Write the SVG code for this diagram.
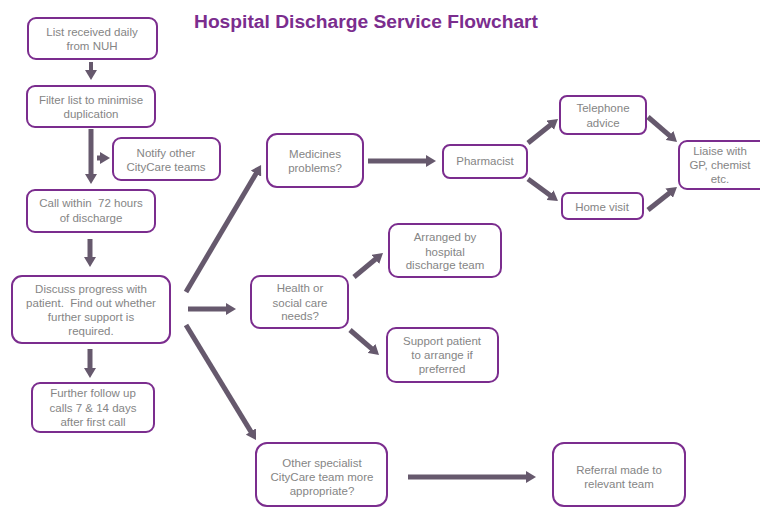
<svg xmlns="http://www.w3.org/2000/svg" width="760" height="507" viewBox="0 0 760 507">
<style>
.box{fill:#fff;stroke:#7b2d8e;stroke-width:2}
.t{font-family:"Liberation Sans",Arial,sans-serif;font-size:11.5px;fill:#858585;text-anchor:middle;white-space:pre}
.title{font-family:"Liberation Sans",Arial,sans-serif;font-size:18px;font-weight:bold;fill:#7b2d8e}
.ar{stroke:#66596d;stroke-width:5;fill:none;marker-end:url(#ah)}
</style>
<defs>
<marker id="ah" markerUnits="userSpaceOnUse" markerWidth="10" markerHeight="12" refX="4" refY="6" orient="auto">
<path d="M0,0 L10,6 L0,12 z" fill="#66596d"/>
</marker>
</defs>
<rect width="760" height="507" fill="#fff"/>
<text class="title" x="194" y="28" textLength="344" lengthAdjust="spacingAndGlyphs">Hospital Discharge Service Flowchart</text>

<g id="connectors">
<line class="ar" style="stroke-width:4" x1="91" y1="62" x2="91" y2="74"/>
<line class="ar" x1="91" y1="129" x2="91" y2="178"/>
<line class="ar" x1="97" y1="158" x2="104" y2="158"/>
<line class="ar" x1="90" y1="239" x2="90" y2="261"/>
<line class="ar" x1="90" y1="349" x2="90" y2="372"/>
<line class="ar" x1="186" y1="292" x2="258" y2="170.2"/>
<line class="ar" x1="188" y1="309" x2="230" y2="309"/>
<line class="ar" x1="186" y1="325" x2="252.9" y2="434.9"/>
<line class="ar" x1="368" y1="161" x2="430" y2="161"/>
<line class="ar" x1="528" y1="143" x2="553.3" y2="122.8"/>
<line class="ar" x1="528" y1="179" x2="553.2" y2="197.5"/>
<line class="ar" x1="648" y1="117" x2="672.5" y2="138.1"/>
<line class="ar" x1="648" y1="210" x2="672.3" y2="190.7"/>
<line class="ar" x1="354" y1="277" x2="378.4" y2="256.8"/>
<line class="ar" x1="350" y1="330" x2="374.5" y2="351.1"/>
<line class="ar" x1="408" y1="477" x2="530" y2="477"/>
</g>

<g id="list">
<rect class="box" x="28" y="18" width="129" height="41" rx="8"/>
<text class="t" x="92" y="36">List received daily</text>
<text class="t" x="92" y="50">from NUH</text>
</g>
<g id="filter">
<rect class="box" x="27" y="86" width="128" height="41" rx="8"/>
<text class="t" x="91" y="104">Filter list to minimise</text>
<text class="t" x="91" y="118">duplication</text>
</g>
<g id="notify">
<rect class="box" x="113" y="138" width="107" height="42" rx="8"/>
<text class="t" x="166" y="157">Notify other</text>
<text class="t" x="166" y="171">CityCare teams</text>
</g>
<g id="call">
<rect class="box" x="27" y="190" width="128" height="42" rx="8"/>
<text class="t" x="91" y="207">Call within  72 hours</text>
<text class="t" x="91" y="222">of discharge</text>
</g>
<g id="discuss">
<rect class="box" x="12" y="276" width="158" height="67" rx="10"/>
<text class="t" x="91" y="293">Discuss progress with</text>
<text class="t" x="91" y="307">patient.  Find out whether</text>
<text class="t" x="91" y="321">further support is</text>
<text class="t" x="91" y="335">required.</text>
</g>
<g id="further">
<rect class="box" x="32" y="383" width="122" height="49" rx="8"/>
<text class="t" x="93" y="397">Further follow up</text>
<text class="t" x="93" y="412">calls 7 &amp; 14 days</text>
<text class="t" x="93" y="426">after first call</text>
</g>
<g id="medicines">
<rect class="box" x="267" y="134" width="96" height="53" rx="10"/>
<text class="t" x="315" y="158">Medicines</text>
<text class="t" x="315" y="172">problems?</text>
</g>
<g id="pharmacist">
<rect class="box" x="443" y="145" width="84" height="33" rx="7"/>
<text class="t" x="485" y="165">Pharmacist</text>
</g>
<g id="telephone">
<rect class="box" x="560" y="96" width="86" height="38" rx="7"/>
<text class="t" x="603" y="112">Telephone</text>
<text class="t" x="603" y="127">advice</text>
</g>
<g id="home">
<rect class="box" x="562" y="193" width="81" height="26" rx="6"/>
<text class="t" x="602" y="211">Home visit</text>
</g>
<g id="liaise">
<rect class="box" x="679" y="141" width="90" height="48" rx="8"/>
<text class="t" x="720" y="155">Liaise with</text>
<text class="t" x="720" y="169">GP, chemist</text>
<text class="t" x="720" y="183">etc.</text>
</g>
<g id="health">
<rect class="box" x="251" y="276" width="97" height="52" rx="9"/>
<text class="t" x="300" y="292">Health or</text>
<text class="t" x="300" y="307">social care</text>
<text class="t" x="300" y="320">needs?</text>
</g>
<g id="arranged">
<rect class="box" x="389" y="224" width="112" height="53" rx="9"/>
<text class="t" x="445" y="241">Arranged by</text>
<text class="t" x="445" y="256">hospital</text>
<text class="t" x="445" y="269">discharge team</text>
</g>
<g id="support">
<rect class="box" x="387" y="328" width="111" height="54" rx="9"/>
<text class="t" x="442" y="345">Support patient</text>
<text class="t" x="442" y="359">to arrange if</text>
<text class="t" x="442" y="373">preferred</text>
</g>
<g id="other">
<rect class="box" x="256" y="443" width="131" height="63" rx="11"/>
<text class="t" x="322" y="467">Other specialist</text>
<text class="t" x="322" y="481">CityCare team more</text>
<text class="t" x="322" y="495">appropriate?</text>
</g>
<g id="referral">
<rect class="box" x="553" y="443" width="132" height="63" rx="11"/>
<text class="t" x="619" y="474">Referral made to</text>
<text class="t" x="619" y="488">relevant team</text>
</g>
</svg>
